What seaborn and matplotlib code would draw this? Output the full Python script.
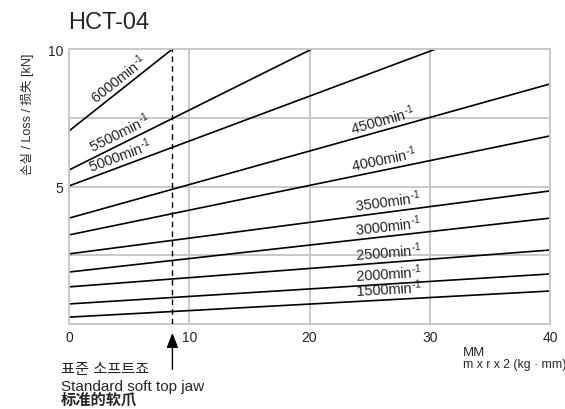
import numpy as np
import pandas as pd
import seaborn as sns
import matplotlib.pyplot as plt
import matplotlib.transforms as mtransforms

# speed curves: loss [kN] vs MM (kg*mm), straight lines
rpm = [6000, 5500, 5000, 4500, 4000, 3500, 3000, 2500, 2000, 1500]
mm_start = [0, 0, 0, 0, 0, 0, 0, 0, 0, 0]
loss_start = [7.02, 5.6, 5.02, 3.85, 3.24, 2.55, 1.89, 1.35, 0.73, 0.25]
mm_end = [8.6, 20.2, 30.5, 40, 40, 40, 40, 40, 40, 40]
loss_end = [10, 10, 10, 8.73, 6.84, 4.84, 3.85, 2.69, 1.82, 1.20]
label_mm = [4.6, 4.6, 4.5, 26.3, 26.3, 26.6, 26.6, 26.6, 26.6, 26.6]

std_jaw_mm = 8.6
x_ticks = [0, 10, 20, 30, 40]
y_ticks = [5, 10]

rows = []
for r, x0, y0, x1, y1 in zip(rpm, mm_start, loss_start, mm_end, loss_end):
    rows.append({"rpm": r, "MM": x0, "loss": y0})
    rows.append({"rpm": r, "MM": x1, "loss": y1})
df = pd.DataFrame(rows)

sns.set_style("white")
plt.rcParams["font.family"] = ["Liberation Sans", "Noto Sans CJK KR", "DejaVu Sans"]
plt.rcParams["mathtext.fontset"] = "custom"
plt.rcParams["mathtext.rm"] = "Liberation Sans"
plt.rcParams["mathtext.it"] = "Liberation Sans"

fig = plt.figure(figsize=(5.65, 4.10), dpi=100)
ax = fig.add_axes([0.1221, 0.2073, 0.8514, 0.6707])

grid_c = "#c8c8c8"
for gx in [10, 20, 30]:
    ax.axvline(gx, color=grid_c, lw=1.4, zorder=0)
for gy in [2.5, 5, 7.5]:
    ax.axhline(gy, color=grid_c, lw=1.4, zorder=0)

sns.lineplot(data=df, x="MM", y="loss", units="rpm", estimator=None,
             color="black", lw=1.2, ax=ax, legend=False)

ax.plot([std_jaw_mm, std_jaw_mm], [0, 10], color="black", lw=1.0,
        ls=(0, (4, 3)), zorder=3)

ax.set_xlim(0, 40)
ax.set_ylim(0, 10)
ax.set_xticks(x_ticks)
ax.set_yticks(y_ticks)
ax.tick_params(length=0, labelsize=10, pad=4)
for s in ax.spines.values():
    s.set_color(grid_c)
    s.set_linewidth(1.4)
ax.set_xlabel("")
ax.set_ylabel("")

# labels along the lines
fig.canvas.draw()
bbox = ax.get_window_extent()
sx = bbox.width / 40
sy = bbox.height / 10
for r, x0, y0, x1, y1, lx in zip(rpm, mm_start, loss_start, mm_end, loss_end, label_mm):
    slope = (y1 - y0) / (x1 - x0)
    ang = np.degrees(np.arctan(slope * sy / sx))
    ly = y0 + slope * (lx - x0)
    tr = mtransforms.offset_copy(ax.transData, fig=fig, x=0, y=1.5, units="points")
    ax.text(lx, ly, f"{r}min$^{{\u2010 1}}$", fontsize=10.5, rotation=ang,
            rotation_mode="anchor", ha="center", va="bottom", transform=tr)

fig.text(0.12, 0.93, "HCT-04", fontsize=17, ha="left", va="baseline")
fig.text(0.048, 0.72, "손실 / Loss / 损失 [kN]", fontsize=9, rotation=90,
         ha="center", va="center")

fig.text(0.819, 0.132, "MM", fontsize=9.5, ha="left", va="baseline")
fig.text(0.819, 0.102, "m x r x 2 (kg \u00b7 mm)", fontsize=8.8, ha="left", va="baseline")

ax.annotate("", xy=(std_jaw_mm, -0.22), xycoords="data",
            xytext=(std_jaw_mm, -1.75), textcoords="data",
            arrowprops=dict(arrowstyle="-|>,head_length=0.9,head_width=0.35",
                            color="black", lw=1.0),
            annotation_clip=False)

fig.text(0.108, 0.087, "표준 소프트죠", fontsize=11, ha="left", va="baseline")
fig.text(0.108, 0.046, "Standard soft top jaw", fontsize=11, ha="left", va="baseline")
fig.text(0.108, 0.013, "标准的软爪", fontsize=11, ha="left", va="baseline",
         fontweight="bold")

fig.savefig("out.png", dpi=100)
